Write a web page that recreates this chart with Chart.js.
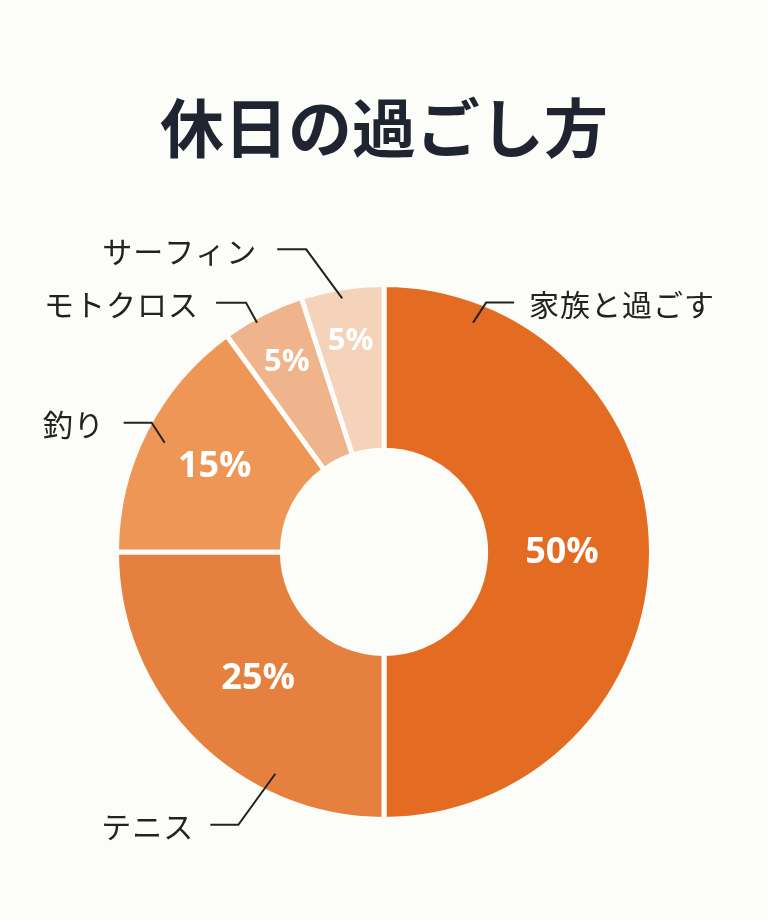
<!DOCTYPE html>
<html lang="ja">
<head>
<meta charset="utf-8">
<title>休日の過ごし方</title>
<script src="https://cdn.jsdelivr.net/npm/chart.js@4.4.1/dist/chart.umd.min.js"></script>
<style>
  html, body { margin: 0; padding: 0; background: #fcfcf8; }
  #wrap { width: 768px; height: 920px; }
</style>
</head>
<body>
<div id="wrap"><canvas id="chart" width="768" height="920"></canvas></div>
<script>
// データ
const categories = ['家族と過ごす', 'テニス', '釣り', 'モトクロス', 'サーフィン'];
const shares = [50, 25, 15, 5, 5];
const sliceColors = ['#e36c22', '#e5803e', '#ee9656', '#f0b48c', '#f5d3bb'];

const BG = '#fcfcf8';

// 引き出し線とラベルの配置 (スライス内の位置 t, 中心からの距離, 折れ点, 横線の長さ)
const calloutLayout = [
    { t: 0.118, r: 246, elbow: [13, -20], run: 28, gap: 15 },
    { t: 0.29, r: 247, elbow: [-37, 51], run: -28, gap: 16 },
    { t: 0.49, r: 245, elbow: [-13, -20], run: -28, gap: 19 },
    { t: 0.39, r: 262, elbow: [-11, -20], run: -30, gap: 17 },
    { t: 0.48, r: 257, elbow: [-36, -49], run: -29, gap: 20 }
];
// パーセント表示の距離とサイズ
const pctRadius = [178, 178, 190, 214, 214];
const pctSize = [36, 36, 36, 31, 31];

function polar(cx, cy, angle, r) {
    return [cx + r * Math.cos(angle), cy + r * Math.sin(angle)];
}

// ラベルを描くプラグイン
const calloutPlugin = {
    id: 'callouts',
    afterDatasetsDraw(chart) {
        const ctx = chart.ctx;
        const arcs = chart.getDatasetMeta(0).data;
        ctx.save();

        arcs.forEach((arc, i) => {
            const cx = arc.x, cy = arc.y;
            const mid = (arc.startAngle + arc.endAngle) / 2;

            // パーセント
            const [px, py] = polar(cx, cy, mid, pctRadius[i]);
            ctx.fillStyle = '#ffffff';
            ctx.font = `bold ${pctSize[i]}px "Open Sans", "Noto Sans", sans-serif`;
            ctx.textAlign = 'center';
            ctx.textBaseline = 'middle';
            ctx.letterSpacing = '0px';
            ctx.fillText(shares[i] + '%', px, py + 1);

            // 引き出し線
            const lay = calloutLayout[i];
            const a = arc.startAngle + lay.t * (arc.endAngle - arc.startAngle);
            const [ax, ay] = polar(cx, cy, a, lay.r);
            const ex = ax + lay.elbow[0], ey = ay + lay.elbow[1];
            const hx = ex + lay.run;
            ctx.strokeStyle = '#222222';
            ctx.lineWidth = 2;
            ctx.beginPath();
            ctx.moveTo(ax, ay);
            ctx.lineTo(ex, ey);
            ctx.lineTo(hx, ey);
            ctx.stroke();

            ctx.fillStyle = '#222222';
            ctx.font = '30px "Noto Sans CJK JP", sans-serif';
            ctx.letterSpacing = '1px';
            ctx.textBaseline = 'middle';
            if (lay.run > 0) {
                ctx.textAlign = 'left';
                ctx.fillText(categories[i], hx + lay.gap, ey + 2);
            } else {
                ctx.textAlign = 'right';
                ctx.fillText(categories[i], hx - lay.gap, ey + 2);
            }
        });
        ctx.restore();
    }
};

const ctx = document.getElementById('chart').getContext('2d');
new Chart(ctx, {
    type: 'doughnut',
    data: {
        labels: categories,
        datasets: [{
            data: shares,
            backgroundColor: sliceColors,
            borderColor: BG,
            borderWidth: 5
        }]
    },
    options: {
        responsive: false,
        animation: false,
        cutout: '38%',
        layout: {
            padding: { top: 0, bottom: 98, left: 114, right: 114 }
        },
        plugins: {
            legend: { display: false },
            tooltip: { enabled: false },
            title: {
                display: true,
                text: '休日の過ごし方',
                color: '#1f2430',
                font: { family: '"Noto Sans CJK JP", sans-serif', size: 64, weight: 'bold' },
                padding: { top: 89, bottom: 116 }
            }
        }
    },
    plugins: [calloutPlugin]
});
</script>
</body>
</html>
